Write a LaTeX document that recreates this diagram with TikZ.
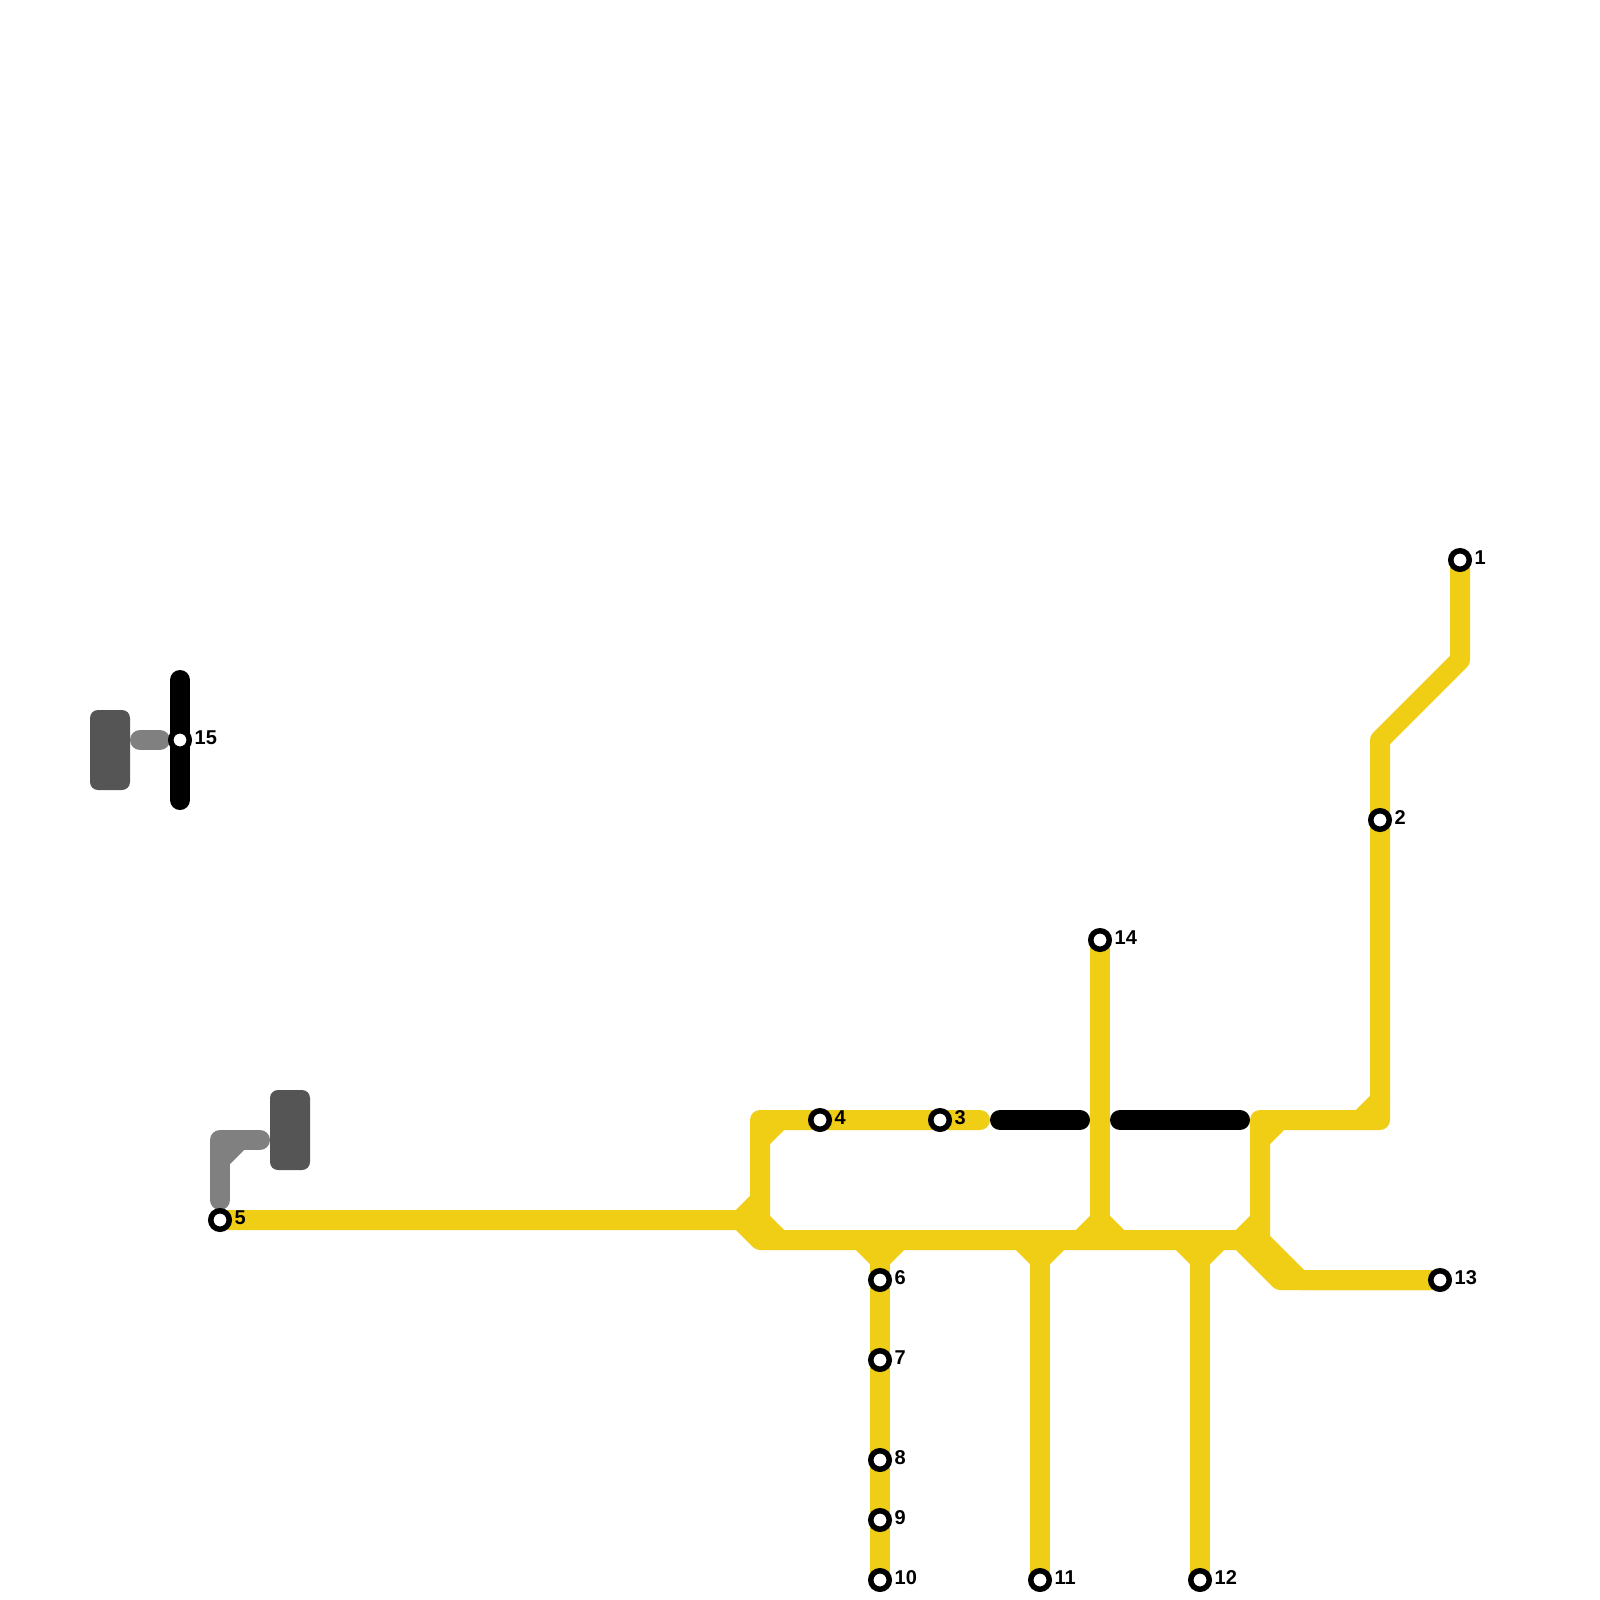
\documentclass[tikz,border=0pt]{standalone}
\usepackage{fontspec}
\setmainfont{Liberation Sans}
\definecolor{lineyellow}{HTML}{F0CE15}
\definecolor{linegray}{HTML}{808080}
\definecolor{stationdark}{HTML}{555555}
\tikzset{
  route/.style={line width=20pt,line cap=round,line join=round},
  yellowroute/.style={route,draw=lineyellow},
  blackroute/.style={route,draw=black},
  grayroute/.style={route,draw=linegray},
  interchange/.style={draw=none,fill=stationdark,rounded corners=8pt,minimum width=40pt,minimum height=80pt,inner sep=0pt},
  stn/.style={circle,draw=black,fill=white,line width=5.5pt,outer sep=0pt,minimum size=18.5pt,inner sep=0pt},
  lbl/.style={anchor=base west,inner sep=0pt,font=\fontsize{20}{20}\selectfont\bfseries,text=black}
}
\newcommand{\stationat}[3]{%
  \node[stn] (s#1) at (#2,#3) {};
  \node[lbl] (l#1) at (#2+14.5,#3+4.8) {#1};
}
\begin{document}
\begin{tikzpicture}[x=1pt,y=-1pt]
\useasboundingbox (0,0) rectangle (1600,1600);
% named bends
\coordinate (a1) at (1460,660);
\coordinate (a2) at (1380,740);
\coordinate (a3) at (1380,1120);
\coordinate (a4) at (1260,1120);
\coordinate (a5) at (1260,1240);
\coordinate (b1) at (760,1120);
\coordinate (b2) at (980,1120);
\coordinate (b3) at (760,1240);
\coordinate (c1) at (740,1220);
\coordinate (d1) at (880,1240);
\coordinate (d2) at (1040,1240);
\coordinate (d3) at (1200,1240);
\coordinate (d4) at (1100,1240);
\coordinate (e1) at (1280,1280);
\coordinate (e2) at (1240,1240);
\coordinate (f1) at (1000,1120);
\coordinate (f2) at (1080,1120);
\coordinate (f3) at (1120,1120);
\coordinate (f4) at (1240,1120);
\coordinate (g1) at (180,680);
\coordinate (g2) at (180,800);
\coordinate (h1) at (140,740);
\coordinate (h2) at (160,740);
\coordinate (i1) at (220,1200);
\coordinate (i2) at (220,1140);
\coordinate (i3) at (260,1140);
% station positions (drawn last)
\coordinate (p1) at (1460,560);
\coordinate (p5) at (220,1220);
\coordinate (p10) at (880,1580);
\coordinate (p11) at (1040,1580);
\coordinate (p12) at (1200,1580);
\coordinate (p13) at (1440,1280);
\coordinate (p14) at (1100,940);
% yellow routes
\draw[yellowroute] (p1) -- (a1) -- (a2) -- (a3) -- (a4) -- (a5);
\draw[yellowroute] (b2) -- (b1) -- (760,1220) -- (780,1240);
\draw[yellowroute] (p5) -- (c1) -- (b3) -- (a5);
\draw[yellowroute] (d1) -- (p10);
\draw[yellowroute] (d2) -- (p11);
\draw[yellowroute] (d3) -- (p12);
\draw[yellowroute] (p14) -- (d4);
\draw[yellowroute] (e2) -- (e1) -- (p13);
\draw[yellowroute] (a5) -- (1300,1280) -- (p13);
% chamfers at the bends and junctions
\draw[yellowroute] (760,1140) -- (780,1120);
\draw[yellowroute] (1260,1140) -- (1280,1120);
\draw[yellowroute] (1360,1120) -- (1380,1100);
\draw[yellowroute] (740,1220) -- (760,1200);
\draw[yellowroute] (860,1240) -- (880,1260) -- (900,1240);
\draw[yellowroute] (1020,1240) -- (1040,1260) -- (1060,1240);
\draw[yellowroute] (1180,1240) -- (1200,1260) -- (1220,1240);
\draw[yellowroute] (1080,1240) -- (1100,1220) -- (1120,1240);
\draw[yellowroute] (1240,1240) -- (1260,1220);
% black routes
\draw[blackroute] (f1) -- (f2);
\draw[blackroute] (f3) -- (f4);
\draw[blackroute] (g1) -- (g2);
% gray routes
\draw[grayroute] (h1) -- (h2);
\draw[grayroute] (i1) -- (i2) -- (i3);
\draw[grayroute] (220,1160) -- (240,1140);
% interchange blocks
\node[interchange] (x1) at (110,750) {};
\node[interchange] (x2) at (290,1130) {};
% stations
\stationat{1}{1460}{560}
\stationat{2}{1380}{820}
\stationat{3}{940}{1120}
\stationat{4}{820}{1120}
\stationat{5}{220}{1220}
\stationat{6}{880}{1280}
\stationat{7}{880}{1360}
\stationat{8}{880}{1460}
\stationat{9}{880}{1520}
\stationat{10}{880}{1580}
\stationat{11}{1040}{1580}
\stationat{12}{1200}{1580}
\stationat{13}{1440}{1280}
\stationat{14}{1100}{940}
\stationat{15}{180}{740}
\end{tikzpicture}
\end{document}
